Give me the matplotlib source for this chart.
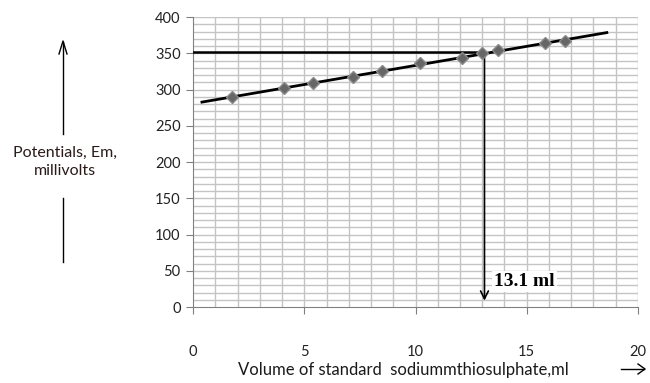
import matplotlib.pyplot as plt
import numpy as np

# Значения
volume_ml = [1.75, 4.1, 5.4, 7.2, 8.5, 10.2, 12.1, 13.0, 13.7, 15.8, 16.7]
potential_mv = [290, 302, 309, 317, 325, 336, 343, 350, 354, 364, 367]
end_volume = 13.1
end_potential = 352
trend_range = [0.4, 18.6]
x_ticks = [0, 5, 10, 15, 20]
y_ticks = [0, 50, 100, 150, 200, 250, 300, 350, 400]

plt.rcParams['font.family'] = ['Lato', 'DejaVu Sans']

fig = plt.figure(figsize=(6.5, 3.83), dpi=100)
ax = fig.add_axes([0.297, 0.1984, 0.6845, 0.7572])

# сетка: вертикальные линии через 1 мл, горизонтальные через 10 мВ
for xv in np.arange(1, 21, 1):
    ax.axvline(xv, color='#c4c4c4', lw=1.0, zorder=0)
for yv in np.arange(10, 401, 10):
    ax.axhline(yv, color='#c4c4c4', lw=1.0, zorder=0)

# линейный тренд
k, b = np.polyfit(volume_ml, potential_mv, 1)
tx = np.array(trend_range)
ax.plot(tx, k * tx + b, color='black', lw=2, zorder=3)

ax.plot(volume_ml, potential_mv, linestyle='none', marker='D', markersize=6.5,
        color='#666666', markeredgecolor='#8a8a8a', zorder=4)

# горизонтальная линия и стрелка вниз к 13.1 мл
ax.plot([0, end_volume], [end_potential, end_potential], color='black', lw=1.8, zorder=3)
ax.annotate('', xy=(end_volume, 5), xytext=(end_volume, end_potential),
            arrowprops=dict(arrowstyle='->', color='black', lw=1.2,
                            mutation_scale=14), zorder=3)
ax.text(end_volume + 0.45, 35, '13.1 ml', family='Liberation Serif', fontsize=14,
        fontweight='bold', ha='left', va='center',
        bbox=dict(facecolor='white', edgecolor='none', pad=1.5), zorder=5)

ax.set_xlim(0, 20)
ax.set_ylim(0, 400)
ax.set_xticks(x_ticks)
ax.set_yticks(y_ticks)
ax.tick_params(axis='x', length=5, pad=22, color='#808080', labelsize=10.5, labelcolor='#222222')
ax.tick_params(axis='y', length=5, pad=4, color='#808080', labelsize=10.5, labelcolor='#222222')
for s in ['top', 'right']:
    ax.spines[s].set_visible(False)
for s in ['left', 'bottom']:
    ax.spines[s].set_color('#808080')

# подписи осей со стрелками
fig.text(403 / 650, 1 - 370 / 383, 'Volume of standard  sodiummthiosulphate,ml',
         ha='center', va='center', fontsize=12, color='#1a1a1a')
fig.add_artist(plt.Line2D([621 / 650, 644 / 650], [1 - 369 / 383, 1 - 369 / 383],
                          color='black', lw=1))
fig.add_artist(plt.Line2D([638 / 650, 645 / 650, 638 / 650],
                          [1 - 364 / 383, 1 - 369 / 383, 1 - 374 / 383], color='black', lw=1))

fig.text(65 / 650, 1 - 162 / 383, 'Potentials, Em,\nmillivolts', ha='center', va='center',
         fontsize=11.5, color='#2a1a1a', linespacing=1.35)
fig.add_artist(plt.Line2D([63 / 650, 63 / 650], [1 - 134 / 383, 1 - 42 / 383],
                          color='black', lw=1))
fig.add_artist(plt.Line2D([63 / 650, 63 / 650], [1 - 262 / 383, 1 - 198 / 383],
                          color='black', lw=1))
fig.add_artist(plt.Line2D([59 / 650, 63 / 650, 67 / 650],
                          [1 - 54 / 383, 1 - 41 / 383, 1 - 54 / 383], color='black', lw=1))

fig.savefig('out.png', dpi=100)
